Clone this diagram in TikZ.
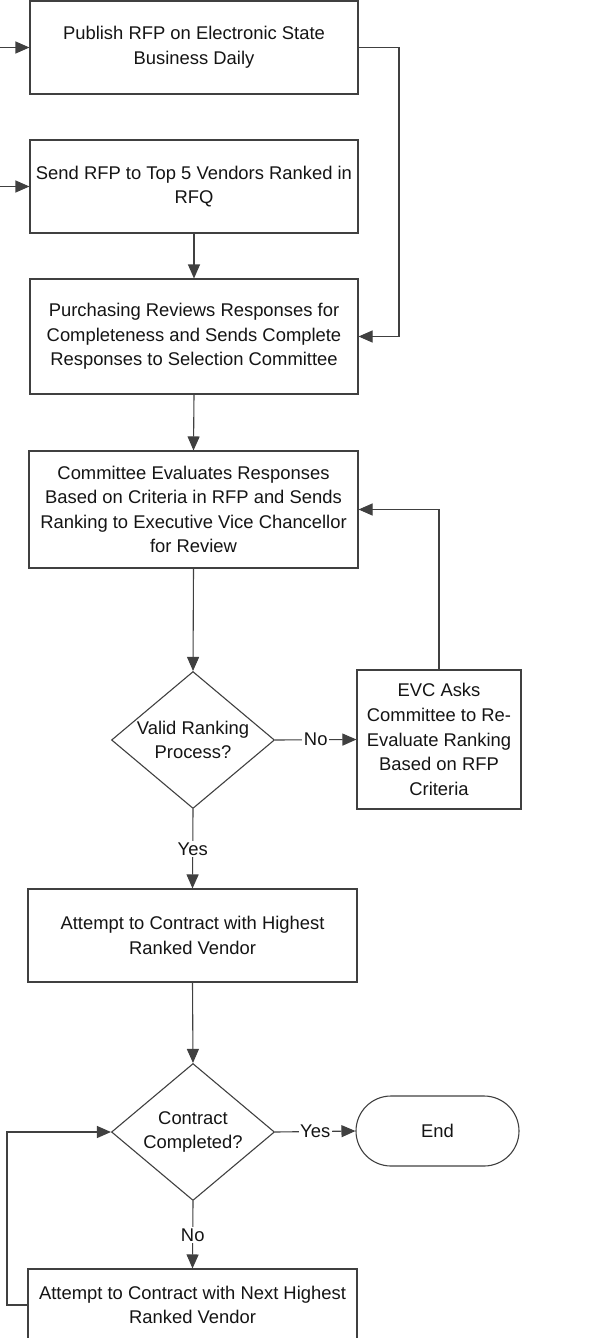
\documentclass[tikz,border=0pt]{standalone}
\usepackage{fontspec}
\setmainfont{Liberation Sans}
\usetikzlibrary{arrows.meta,shapes.geometric}
\begin{document}
\begin{tikzpicture}[x=1pt,y=-1pt,
  ln/.style={draw=black!75, line width=1.1pt},
  arr/.style={ln, -{Triangle[length=14pt,width=12pt]}},
  txt/.style={font=\fontsize{18.4}{24.6}\selectfont, text=black!92, align=center, inner sep=0pt},
  box/.style={ln, rectangle, txt, inner sep=0pt},
  diam/.style={ln, diamond, inner sep=0pt, minimum width=163pt, minimum height=137pt},
  term/.style={ln, rectangle, rounded corners=35pt, txt, minimum width=163pt, minimum height=70pt},
  lbl/.style={txt, fill=white, inner sep=1.5pt}
]
\useasboundingbox (0,0) rectangle (589,1338);
\begin{scope}
\clip (0,0) rectangle (589,1338);
% boxes
\node[box, minimum width=328pt, minimum height=93pt] (b1) at (194,47.5) {Publish RFP on Electronic State\\Business Daily};
\node[box, minimum width=328pt, minimum height=93pt] (b2) at (194,186.5) {Send RFP to Top 5 Vendors Ranked in\\RFQ};
\node[box, minimum width=328pt, minimum height=115pt] (b3) at (194,336.5) {Purchasing Reviews Responses for\\Completeness and Sends Complete\\Responses to Selection Committee};
\node[box, minimum width=329pt, minimum height=117pt] (b4) at (193.5,509.5) {Committee Evaluates Responses\\Based on Criteria in RFP and Sends\\Ranking to Executive Vice Chancellor\\for Review};
\node[diam] (d1) at (193,740) {};
\node[txt] (d1t) at (d1) {Valid Ranking\\Process?};
\node[box, minimum width=164pt, minimum height=139pt] (evc) at (439,739.5) {EVC Asks\\Committee to Re-\\Evaluate Ranking\\Based on RFP\\Criteria};
\node[box, minimum width=329pt, minimum height=93pt] (b5) at (192.5,935.5) {Attempt to Contract with Highest\\Ranked Vendor};
\node[diam] (d2) at (193,1132) {};
\node[txt] (d2t) at (d2) {Contract\\Completed?};
\node[term] (end) at (437.5,1131) {End};
\node[box, minimum width=329pt, minimum height=72pt] (b6) at (192.5,1305) {Attempt to Contract with Next Highest\\Ranked Vendor};
% free ends
\coordinate (in1) at (0,47.5);
\coordinate (in2) at (0,186.5);
\coordinate (r1) at (399,47.5);
\coordinate (l1) at (7,1305);
% connectors
\draw[arr] (in1) -- (b1.west);
\draw[arr] (in2) -- (b2.west);
\draw[arr] (b1.east) -- (r1) |- (b3.east);
\draw[arr] (b2.south) -- (b3.north);
\draw[arr] (b3.south) -- (b4.north);
\draw[arr] (b4.south) -- (d1.north);
\draw[arr] (d1.east) -- node[lbl] (lno1) {No} (evc.west);
\draw[arr] (evc.north) |- (b4.east);
\draw[arr] (d1.south) -- node[lbl] (lyes1) {Yes} (b5.north);
\draw[arr] (b5.south) -- (d2.north);
\draw[arr] (d2.east) -- node[lbl] (lyes2) {Yes} (end.west);
\draw[arr] (d2.south) -- node[lbl] (lno2) {No} (b6.north);
\draw[arr] (b6.west) -- (l1) |- (d2.west);
\end{scope}
\end{tikzpicture}
\end{document}
